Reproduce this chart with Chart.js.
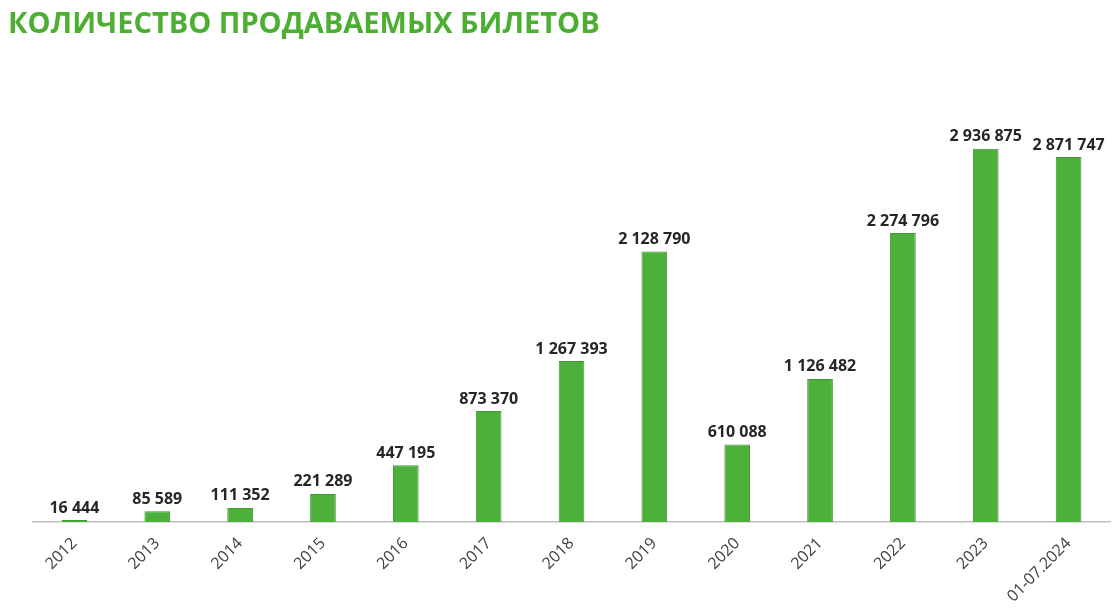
<!DOCTYPE html>
<html>
<head>
<meta charset="utf-8">
<script src="https://cdn.jsdelivr.net/npm/chart.js@4"></script>
<style>
  html, body { margin: 0; padding: 0; background: #fff; }
  #wrap { width: 1120px; height: 612px; }
</style>
</head>
<body>
<div id="wrap"><canvas id="myChart" width="1120" height="612"></canvas></div>
<script>
// categories (years) and tickets sold
let labels = ['2012', '2013', '2014', '2015', '2016', '2017', '2018',
              '2019', '2020', '2021', '2022', '2023', '01-07.2024'];
let tickets = [16444, 85589, 111352, 221289, 447195, 873370, 1267393,
               2128790, 610088, 1126482, 2274796, 2936875, 2871747];

// 1234567 -> "1 234 567"
function spaced(n) {
  return String(n).replace(/\B(?=(\d{3})+(?!\d))/g, ' ');
}

// simple value labels above each bar
let barLabels = {
  id: 'barLabels',
  afterDatasetsDraw(chart) {
    let ctx = chart.ctx;
    let meta = chart.getDatasetMeta(0);
    ctx.save();
    ctx.font = 'bold 16px "Open Sans"';
    ctx.fillStyle = '#262626';
    ctx.textAlign = 'center';
    ctx.textBaseline = 'bottom';
    meta.data.forEach(function(bar, i) {
      ctx.fillText(spaced(tickets[i]), bar.x, bar.y - 4);
    });
    ctx.restore();
  }
};

let options = {
  type: 'bar',
  data: {
    labels: labels,
    datasets: [{
      data: tickets,
      backgroundColor: '#4DB03B',
      borderColor: '#3F9830',
      borderWidth: 1,
      barPercentage: 0.62,
      categoryPercentage: 0.5
    }]
  },
  options: {
    responsive: false,
    animation: false,
    layout: { padding: { left: 8, right: 10, top: 7, bottom: 2 } },
    plugins: {
      legend: { display: false },
      tooltip: { enabled: false },
      title: {
        display: true,
        text: 'КОЛИЧЕСТВО ПРОДАВАЕМЫХ БИЛЕТОВ',
        align: 'start',
        color: '#4CAF32',
        font: { family: '"Open Sans"', size: 29, weight: 'bold' },
        padding: { top: 0, bottom: 99 }
      }
    },
    scales: {
      x: {
        grid: { display: false },
        border: { display: true, color: '#BFBFBF', width: 1.5 },
        ticks: {
          color: '#404040',
          font: { family: '"Open Sans"', size: 16 },
          maxRotation: 45,
          minRotation: 45,
          padding: 4
        }
      },
      y: {
        display: true,
        min: 0,
        max: 3000000,
        grid: { display: false },
        border: { display: false },
        ticks: { display: false },
        afterFit: function(scale) { scale.width = 25; }
      }
    }
  },
  plugins: [barLabels]
};

let mChart = new Chart(document.getElementById('myChart'), options);
</script>
</body>
</html>
